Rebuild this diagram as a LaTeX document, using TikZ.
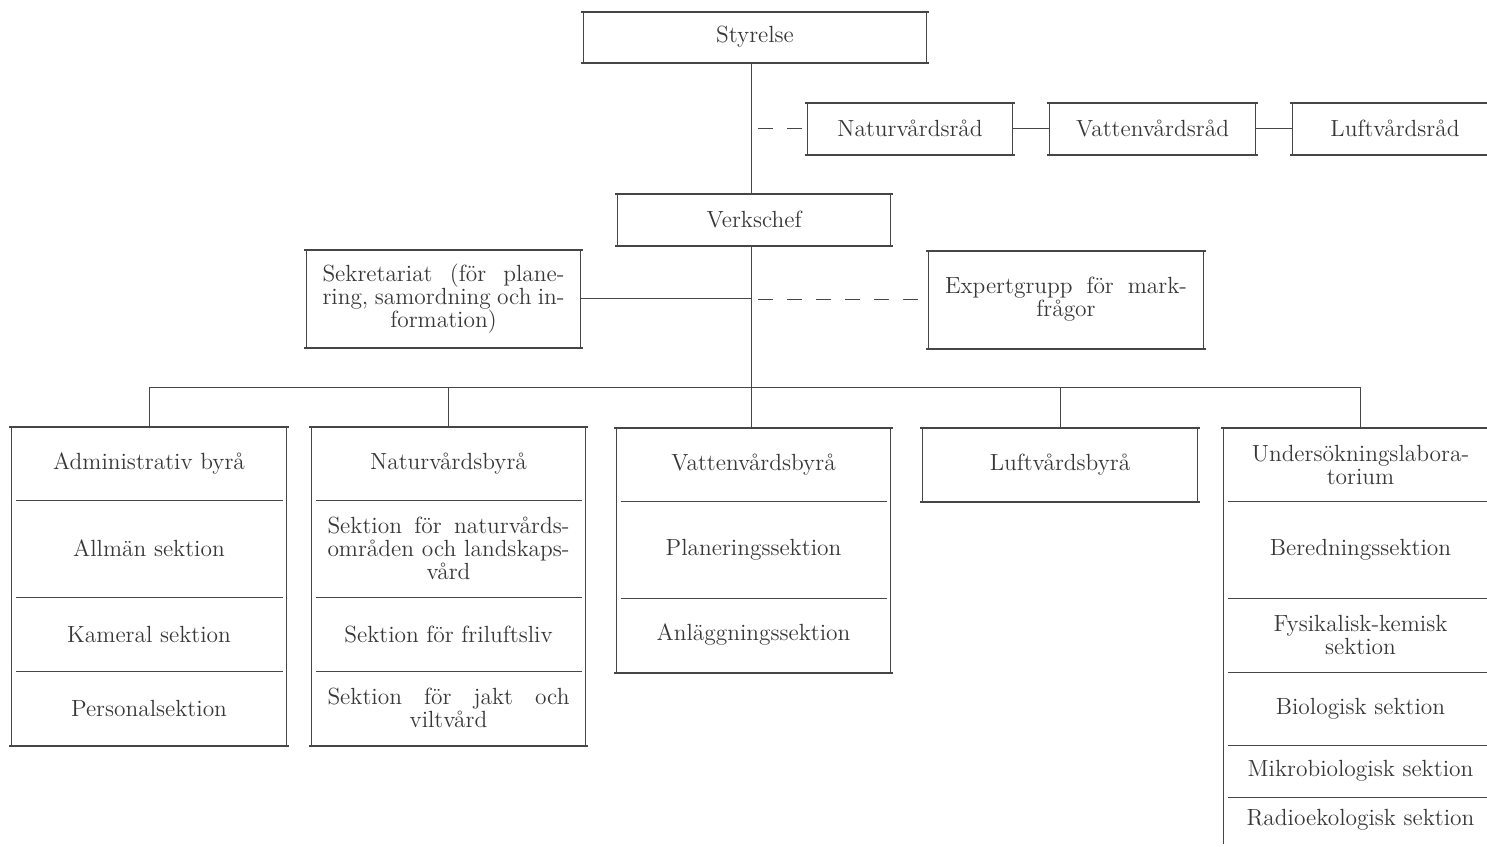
\documentclass[tikz,border=0pt]{standalone}

\definecolor{ink}{RGB}{55,55,55}
\definecolor{rule}{RGB}{70,70,70}

\tikzset{every picture/.style={line width=0.5pt}}
\tikzset{
  cell/.style={inner sep=0pt, text=ink, align=center, font=\fontsize{11.7}{11.5}\selectfont},
  hline/.style={draw=rule, line width=1pt, shorten <=-1.2pt, shorten >=-1.2pt},
  dline/.style={draw=rule, line width=0.9pt, shorten <=2pt, shorten >=2pt},
  vline/.style={draw=rule, line width=0.5pt},
  link/.style={draw=rule, line width=0.5pt},
  dlink/.style={link, dash pattern=on 7.5pt off 7pt}
}

% frame round a column of cells: top cell, bottom cell
\newcommand{\orgframe}[2]{%
  \draw[hline] (#1.north west) -- (#1.north east);
  \draw[hline] (#2.south west) -- (#2.south east);
  \draw[vline] (#1.north west) -- (#2.south west);
  \draw[vline] (#1.north east) -- (#2.south east);}
% rule under one cell of a column
\newcommand{\orgrule}[1]{\draw[dline] (#1.south west) -- (#1.south east);}

\begin{document}
\begin{tikzpicture}[x=0.5pt,y=0.5pt,yscale=-1,xscale=1]
\useasboundingbox (0,0) rectangle (1487,846);

% Text Node
\node[cell, minimum width=171pt, minimum height=25pt] (styrelse) at (755,37) {Styrelse};
% Text Node
\node[cell, minimum width=136pt, minimum height=25.5pt] (verk) at (754,219.5) {Verkschef};
% Text Node
\node[cell, minimum width=102pt, minimum height=25.5pt] (nrad) at (910,128.5) {Naturvårdsråd};
% Text Node
\node[cell, minimum width=102.5pt, minimum height=25.5pt] (vrad) at (1152.5,128.5) {Vattenvårdsråd};
% Text Node
\node[cell, minimum width=102pt, minimum height=25.5pt] (lrad) at (1395,128.5) {Luftvårdsråd};
% Text Node
\node[cell, minimum width=136.5pt, minimum height=48.5pt] (sek) at (443.5,298.5)
  {\makebox[121pt][s]{Sekretariat (för plane-}\\\makebox[121pt][s]{ring, samordning och in-}\\formation)};
% Text Node
\node[cell, minimum width=137pt, minimum height=48.5pt] (expert) at (1066,299.5)
  {\makebox[121pt][s]{Expertgrupp för mark-}\\frågor};

% Administrativ byrå
\node[cell, minimum width=137pt, minimum height=36.5pt] (adm) at (149,463.5) {Administrativ byrå};
\node[cell, minimum width=137pt, minimum height=48.5pt] (allm) at (149,548.5) {Allmän sektion};
\node[cell, minimum width=137pt, minimum height=37pt] (kam) at (149,634) {Kameral sektion};
\node[cell, minimum width=137pt, minimum height=37pt] (pers) at (149,708) {Personalsektion};

% Naturvårdsbyrå
\node[cell, minimum width=136.5pt, minimum height=36.5pt] (nat) at (448.5,463.5) {Naturvårdsbyrå};
\node[cell, minimum width=136.5pt, minimum height=48.5pt] (natomr) at (448.5,548.5)
  {\makebox[121pt][s]{Sektion för naturvårds-}\\\makebox[121pt][s]{områden och landskaps-}\\vård};
\node[cell, minimum width=136.5pt, minimum height=37pt] (fril) at (448.5,634) {Sektion för friluftsliv};
\node[cell, minimum width=136.5pt, minimum height=37pt] (jakt) at (448.5,708)
  {\makebox[121pt][s]{Sektion för jakt och}\\viltvård};

% Vattenvårdsbyrå
\node[cell, minimum width=136.5pt, minimum height=36.5pt] (vat) at (753.5,464.5) {Vattenvårdsbyrå};
\node[cell, minimum width=136.5pt, minimum height=48.5pt] (plan) at (753.5,549.5) {Planeringssektion};
\node[cell, minimum width=136.5pt, minimum height=37pt] (anl) at (753.5,635) {Anläggningssektion};

% Luftvårdsbyrå
\node[cell, minimum width=137pt, minimum height=36.5pt] (luft) at (1060,464.5) {Luftvårdsbyrå};

% Undersökningslaboratorium
\node[cell, minimum width=136.5pt, minimum height=36.5pt] (lab) at (1360.5,464.5) {Undersökningslabora-\\torium};
\node[cell, minimum width=136.5pt, minimum height=48.5pt] (bered) at (1360.5,549.5) {Beredningssektion};
\node[cell, minimum width=136.5pt, minimum height=37pt] (fys) at (1360.5,635) {Fysikalisk-kemisk\\sektion};
\node[cell, minimum width=136.5pt, minimum height=36.5pt] (bio) at (1360.5,708.5) {Biologisk sektion};
\node[cell, minimum width=136.5pt, minimum height=26pt] (mikro) at (1360.5,771) {Mikrobiologisk sektion};
\node[cell, minimum width=136.5pt, minimum height=23pt] (radio) at (1360.5,820) {Radioekologisk sektion};

%Shape: Rectangle
\orgframe{styrelse}{styrelse}
\orgframe{verk}{verk}
\orgframe{nrad}{nrad}
\orgframe{vrad}{vrad}
\orgframe{lrad}{lrad}
\orgframe{sek}{sek}
\orgframe{expert}{expert}
\orgframe{adm}{pers}
\orgrule{adm} \orgrule{allm} \orgrule{kam}
\orgframe{nat}{jakt}
\orgrule{nat} \orgrule{natomr} \orgrule{fril}
\orgframe{vat}{anl}
\orgrule{vat} \orgrule{plan}
\orgframe{luft}{luft}
% laboratory column runs off the page, no bottom rule
\draw[hline] (lab.north west) -- (lab.north east);
\draw[vline] (lab.north west) -- (radio.south west);
\orgrule{lab} \orgrule{bered} \orgrule{fys} \orgrule{bio} \orgrule{mikro}

%Straight Lines
\coordinate (bus) at (751,387);
\draw[link] (styrelse.south -| bus) -- (verk.north -| bus);
\draw[link] (verk.south -| bus) -- (bus);
\draw[dlink, shorten <=3.5pt] (nrad.west -| bus) -- (nrad.west);
\draw[link] (nrad.east) -- (vrad.west);
\draw[link] (vrad.east) -- (lrad.west);
\draw[link] (sek.east) -- (sek.east -| bus);
\draw[dlink, shorten <=3.5pt, shorten >=2pt] (expert.west -| bus) -- (expert.west);
\draw[link] (adm.north |- bus) -- (lab.north |- bus);
\foreach \n in {adm,nat,luft,lab}
  \draw[link] (\n.north |- bus) -- (\n.north);
\draw[link] (bus) -- (vat.north -| bus);

\end{tikzpicture}
\end{document}
